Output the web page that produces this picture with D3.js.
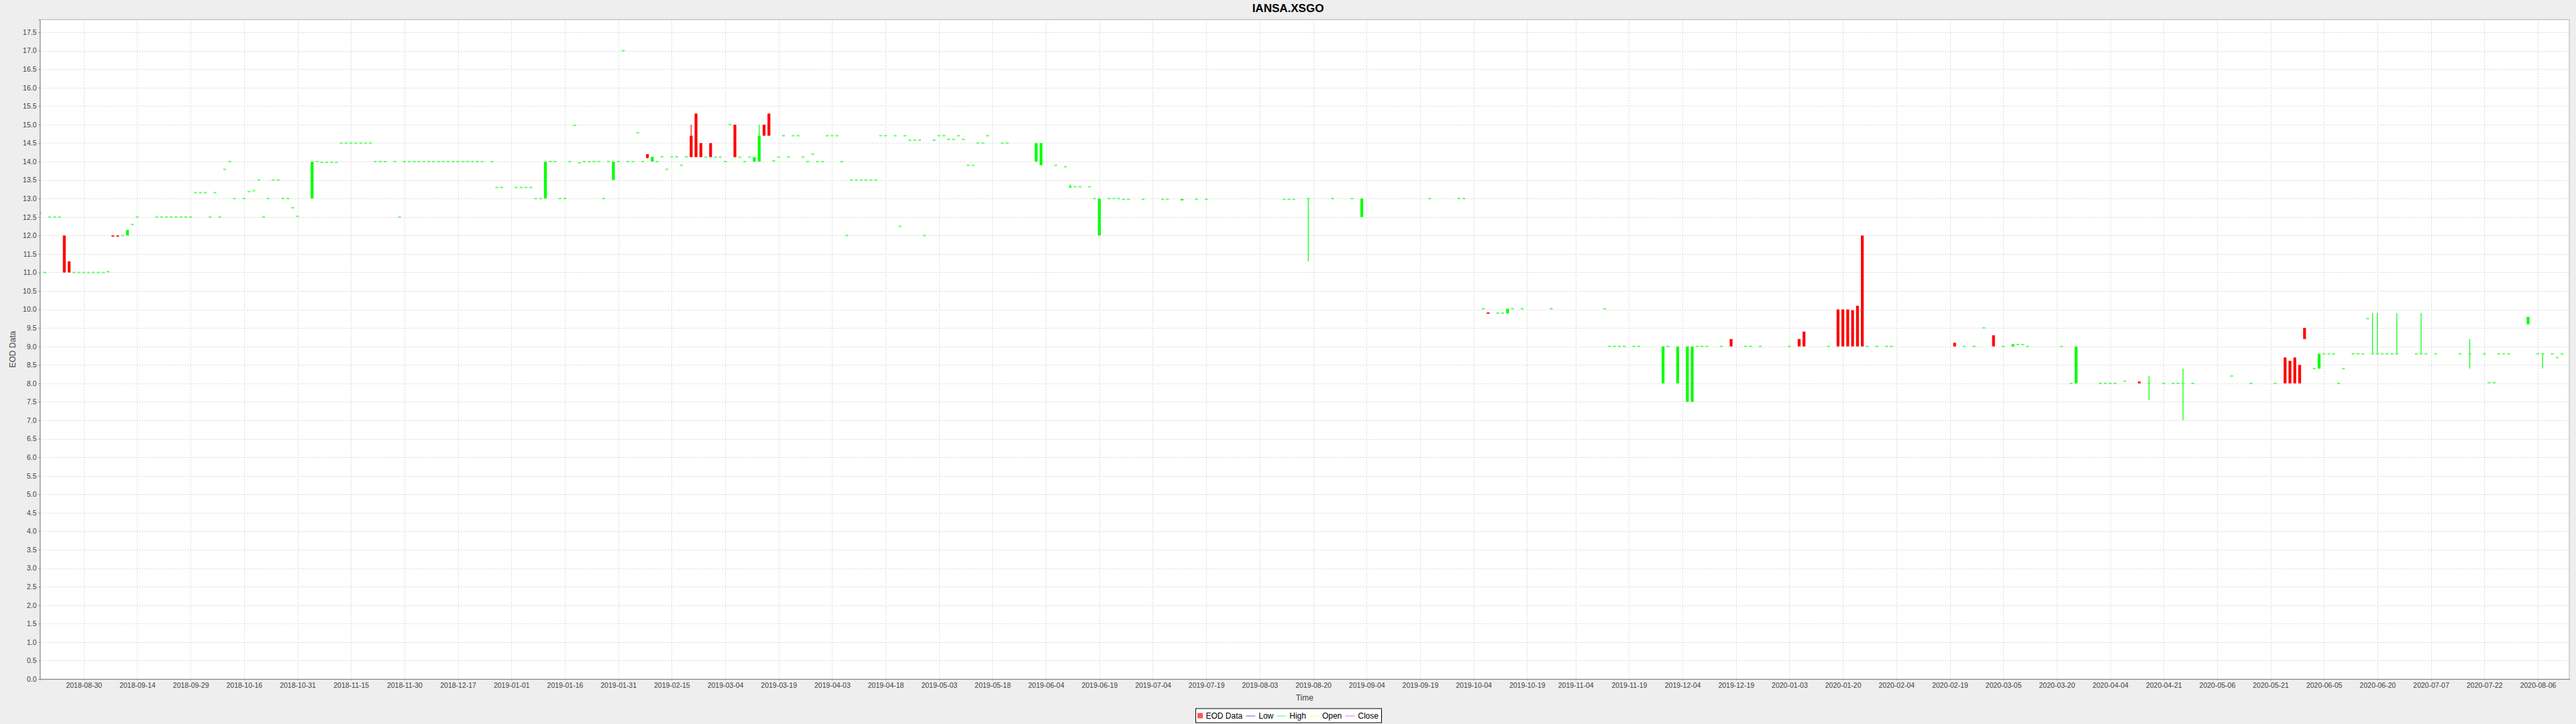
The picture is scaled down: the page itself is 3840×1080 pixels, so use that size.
<!DOCTYPE html>
<html>
<head>
<meta charset="utf-8">
<script src="https://cdn.jsdelivr.net/npm/d3@7"></script>
<style>
  html, body { margin: 0; padding: 0; background: #eeeeee; }
  svg { display: block; }
  text { font-family: "Liberation Sans", Arial, sans-serif; }
</style>
</head>
<body>
<svg id="chart" width="3840" height="1080"></svg>
<script>
// ---------------- DATA ----------------
const chartTitle = "IANSA.XSGO";
const yAxisTitle = "EOD Data";
const xAxisTitle = "Time";

// Days where open = high = low = close
const flatDates = [
  "2018-08-17","2018-08-20","2018-08-21","2018-08-22","2018-08-23",
  "2018-08-28","2018-08-29","2018-08-30","2018-08-31","2018-09-03","2018-09-04","2018-09-05","2018-09-06",
  "2018-09-11","2018-09-13","2018-09-14",
  "2018-09-20","2018-09-21","2018-09-24","2018-09-25","2018-09-26","2018-09-27","2018-09-28","2018-10-01",
  "2018-10-02","2018-10-03","2018-10-04","2018-10-05","2018-10-08","2018-10-09","2018-10-10","2018-10-11",
  "2018-10-12","2018-10-16","2018-10-17","2018-10-18","2018-10-19","2018-10-22","2018-10-23","2018-10-24",
  "2018-10-25","2018-10-26","2018-10-29","2018-10-30","2018-10-31",
  "2018-11-06","2018-11-07","2018-11-08","2018-11-09","2018-11-12",
  "2018-11-13","2018-11-14","2018-11-15","2018-11-16","2018-11-19","2018-11-20","2018-11-21",
  "2018-11-22","2018-11-23","2018-11-26","2018-11-28","2018-11-29",
  "2018-11-30","2018-12-03","2018-12-04","2018-12-05","2018-12-06","2018-12-07","2018-12-10","2018-12-11",
  "2018-12-12","2018-12-13","2018-12-14","2018-12-17","2018-12-18","2018-12-19","2018-12-20","2018-12-21",
  "2018-12-24","2018-12-26",
  "2018-12-27","2018-12-28","2019-01-02","2019-01-03","2019-01-04","2019-01-07",
  "2019-01-08","2019-01-09","2019-01-11","2019-01-14","2019-01-15","2019-01-16","2019-01-17","2019-01-18",
  "2019-01-21","2019-01-22","2019-01-23","2019-01-24","2019-01-25","2019-01-28","2019-01-29","2019-01-31",
  "2019-02-01","2019-02-04","2019-02-05","2019-02-06","2019-02-07","2019-02-12","2019-02-13","2019-02-14",
  "2019-02-15","2019-02-18","2019-02-19","2019-02-20","2019-02-26","2019-02-28","2019-03-01","2019-03-04",
  "2019-03-05","2019-03-07","2019-03-08","2019-03-11","2019-03-18","2019-03-19","2019-03-20","2019-03-21",
  "2019-03-22","2019-03-25","2019-03-26","2019-03-27","2019-03-28","2019-03-29","2019-04-01","2019-04-02",
  "2019-04-03","2019-04-04","2019-04-05","2019-04-08","2019-04-09","2019-04-10","2019-04-11","2019-04-12",
  "2019-04-15","2019-04-16","2019-04-17","2019-04-18","2019-04-22","2019-04-23","2019-04-24","2019-04-25",
  "2019-04-26","2019-04-29","2019-04-30","2019-05-02","2019-05-03","2019-05-06","2019-05-07","2019-05-08",
  "2019-05-09","2019-05-10","2019-05-13","2019-05-14","2019-05-15","2019-05-16","2019-05-17","2019-05-22",
  "2019-05-23","2019-06-06","2019-06-10","2019-06-12","2019-06-13","2019-06-17","2019-06-18","2019-06-21",
  "2019-06-24","2019-06-25","2019-06-26","2019-06-27","2019-07-02","2019-07-08","2019-07-09","2019-07-17",
  "2019-07-19","2019-08-12","2019-08-13","2019-08-14","2019-08-26","2019-08-30","2019-09-23","2019-10-01",
  "2019-10-02","2019-10-08","2019-10-11","2019-10-14","2019-10-16","2019-10-18","2019-10-28","2019-11-12",
  "2019-11-13","2019-11-14","2019-11-15","2019-11-18","2019-11-20","2019-11-21","2019-11-29","2019-12-09",
  "2019-12-10","2019-12-11","2019-12-16","2019-12-23","2019-12-24","2019-12-26","2020-01-03","2020-01-15",
  "2020-01-27","2020-01-29","2020-01-31","2020-02-03","2020-02-24","2020-02-26","2020-02-28","2020-03-05",
  "2020-03-10","2020-03-11","2020-03-12","2020-03-23","2020-03-25","2020-04-02","2020-04-03","2020-04-06",
  "2020-04-07","2020-04-09","2020-04-21","2020-04-23","2020-04-24","2020-04-29","2020-05-11","2020-05-15",
  "2020-05-22","2020-06-03","2020-06-05","2020-06-08","2020-06-09","2020-06-10","2020-06-11","2020-06-15",
  "2020-06-16","2020-06-17","2020-06-18","2020-06-23","2020-06-24","2020-06-25","2020-07-02","2020-07-06",
  "2020-07-08","2020-07-15","2020-07-22","2020-07-23","2020-07-24","2020-07-27","2020-07-28","2020-07-29",
  "2020-08-06","2020-08-11","2020-08-12","2020-08-13"
];
const flatPrices = [
  12.6,11.0,12.5,12.5,12.5,
  11.0,11.0,11.0,11.0,11.0,11.0,11.0,11.02,
  12.0,12.3,12.5,
  12.5,12.5,12.5,12.5,12.5,12.5,12.5,12.5,
  13.16,13.16,13.16,12.5,13.16,12.5,13.79,14.0,
  13.0,13.0,13.19,13.21,13.5,12.5,13.0,13.5,
  13.5,13.0,13.0,12.75,12.52,
  14.0,13.98,13.98,13.98,13.98,
  14.5,14.5,14.5,14.5,14.5,14.5,14.5,
  14.0,14.0,14.0,14.0,12.5,
  14.0,14.0,14.0,14.0,14.0,14.0,14.0,14.0,
  14.0,14.0,14.0,14.0,14.0,14.0,14.0,14.0,
  14.0,14.0,
  13.3,13.3,13.3,13.3,13.3,13.3,
  13.0,13.0,14.0,14.0,13.0,13.0,14.0,14.98,
  13.97,14.0,14.0,14.0,14.0,13.0,14.0,14.0,
  17.0,14.0,14.0,14.78,14.0,14.0,14.13,13.79,
  14.13,14.13,13.9,14.13,14.12,14.12,14.12,14.0,
  15.0,14.12,14.0,14.12,14.02,14.12,14.7,14.12,
  14.7,14.7,14.12,14.0,14.2,14.0,14.0,14.7,
  14.7,14.7,14.0,12.0,13.5,13.5,13.5,13.5,
  13.5,13.5,14.7,14.7,14.7,12.25,14.7,14.58,
  14.58,14.58,12.0,14.58,14.7,14.7,14.6,14.6,
  14.7,14.6,13.9,13.9,14.5,14.5,14.7,14.5,
  14.5,13.9,13.86,13.32,13.32,13.32,13.0,13.0,
  13.0,13.0,12.98,12.98,12.98,12.98,12.98,12.98,
  12.98,12.98,12.98,12.98,13.0,13.0,13.0,13.0,
  13.0,10.02,9.9,9.9,10.02,10.02,10.02,10.02,
  9.0,9.0,9.0,9.0,9.0,9.0,9.0,9.0,
  9.0,9.0,9.0,9.0,9.0,9.0,9.0,9.0,
  9.0,9.0,9.0,9.0,9.0,9.0,9.5,9.0,
  9.05,9.05,9.0,9.0,8.0,8.0,8.0,8.0,
  8.0,8.06,8.0,8.0,8.0,8.0,8.2,8.0,
  8.0,8.4,8.8,8.8,8.8,8.0,8.4,8.8,
  8.8,8.8,9.75,8.8,8.8,8.8,8.8,8.8,
  8.8,8.8,8.8,8.02,8.02,8.8,8.8,8.8,
  8.8,8.8,8.7,8.8
];

// Days with a visible body or shadow
const candleDates = [
  "2018-08-24","2018-08-27","2018-09-07","2018-09-10","2018-09-12","2018-11-05","2019-01-10","2019-01-30",
  "2019-02-08","2019-02-11","2019-02-21","2019-02-22","2019-02-25","2019-02-27","2019-03-06","2019-03-12",
  "2019-03-13","2019-03-14","2019-03-15","2019-05-31","2019-06-03","2019-06-11","2019-06-19","2019-07-12",
  "2019-08-19","2019-09-03","2019-10-09","2019-10-15","2019-11-28","2019-12-03","2019-12-05","2019-12-06",
  "2019-12-18","2020-01-07","2020-01-08","2020-01-17","2020-01-20","2020-01-21","2020-01-22","2020-01-23",
  "2020-01-24","2020-02-20","2020-03-03","2020-03-09","2020-03-26","2020-04-14","2020-04-16","2020-04-27",
  "2020-05-26","2020-05-27","2020-05-28","2020-05-29","2020-06-01","2020-06-04","2020-06-19","2020-06-22",
  "2020-06-26","2020-07-03","2020-07-17","2020-08-04","2020-08-07"
];
const candleOpen = [
  12.0,11.3,12.0,12.0,12.0,13.0,13.0,13.5,
  14.2,14.0,14.7,15.3,14.5,14.5,15.0,14.0,
  14.0,15.0,15.3,14.0,13.9,13.3,12.0,12.95,
  13.0,12.5,9.91,9.89,8.0,8.0,7.5,7.5,
  9.2,9.2,9.4,10.0,10.0,10.0,9.98,10.1,
  12.0,9.1,9.3,9.0,8.0,8.05,8.0,8.0,
  8.7,8.61,8.7,8.5,9.5,8.4,8.8,8.8,
  8.8,8.8,8.8,9.6,8.8
];
const candleHigh = [
  12.0,11.3,12.0,12.0,12.15,14.0,14.0,14.0,
  14.2,14.13,15.0,15.3,14.5,14.5,15.0,14.12,
  15.0,15.0,15.3,14.5,14.5,13.38,13.0,12.99,
  13.0,13.0,9.91,10.02,9.0,9.0,9.0,9.0,
  9.2,9.2,9.4,10.0,10.0,10.0,9.98,10.1,
  12.0,9.1,9.3,9.06,9.0,8.05,8.2,8.4,
  8.7,8.61,8.7,8.5,9.5,8.8,9.9,9.9,
  9.9,9.9,9.2,9.8,8.8
];
const candleLow = [
  11.0,11.0,11.97,11.97,12.0,13.0,13.0,13.5,
  14.08,14.0,14.12,14.12,14.12,14.12,14.12,14.0,
  14.0,14.7,14.7,14.0,13.9,13.3,12.0,12.95,
  11.3,12.5,9.89,9.89,8.0,8.0,7.5,7.5,
  9.0,9.0,9.0,9.0,9.0,9.0,9.0,9.0,
  9.0,9.0,9.0,9.0,8.0,8.0,7.55,7.0,
  8.0,8.0,8.0,8.0,9.2,8.4,8.8,8.8,
  8.8,8.8,8.4,9.6,8.4
];
const candleClose = [
  11.0,11.0,11.97,11.97,12.15,14.0,14.0,14.0,
  14.1,14.13,14.12,14.12,14.12,14.12,14.12,14.12,
  14.7,14.7,14.7,14.5,14.5,13.33,13.0,12.99,
  13.0,13.0,9.89,10.02,9.0,9.0,9.0,9.0,
  9.0,9.0,9.0,9.0,9.0,9.0,9.0,9.0,
  9.0,9.0,9.0,9.06,9.0,8.0,8.0,8.0,
  8.0,8.0,8.0,8.0,9.2,8.8,8.8,8.8,
  8.8,8.8,8.8,9.8,8.8
];

const xTickLabels = [
  "2018-08-30","2018-09-14","2018-09-29","2018-10-16","2018-10-31","2018-11-15","2018-11-30","2018-12-17",
  "2019-01-01","2019-01-16","2019-01-31","2019-02-15","2019-03-04","2019-03-19","2019-04-03","2019-04-18",
  "2019-05-03","2019-05-18","2019-06-04","2019-06-19","2019-07-04","2019-07-19","2019-08-03","2019-08-20",
  "2019-09-04","2019-09-19","2019-10-04","2019-10-19","2019-11-04","2019-11-19","2019-12-04","2019-12-19",
  "2020-01-03","2020-01-20","2020-02-04","2020-02-19","2020-03-05","2020-03-20","2020-04-04","2020-04-21",
  "2020-05-06","2020-05-21","2020-06-05","2020-06-20","2020-07-07","2020-07-22","2020-08-06"
];
const legendItems = [
  {label: "EOD Data", color: "#ff5555", kind: "box"},
  {label: "Low",   color: "#5555ff", kind: "line"},
  {label: "High",  color: "#55ff55", kind: "line"},
  {label: "Open",  color: "#ffff55", kind: "line"},
  {label: "Close", color: "#ff55ff", kind: "line"}
];

// ---------------- LAYOUT ----------------
const W = 3840, H = 1080;
const plot = {left: 59.5, right: 3830, top: 29.3, bottom: 1013};

// Monday-to-Friday timeline: weekends are removed from the axis
const timelineStart = Date.UTC(2018, 7, 27);
function tradingIndex(s) {
  const [Y, M, D] = s.split("-").map(Number);
  const days = Math.round((Date.UTC(Y, M - 1, D) - timelineStart) / 864e5);
  let w = Math.floor(days / 7), dow = days - 7 * w;
  if (dow > 4) { w += 1; dow = 0; }
  return w * 5 + dow;
}

const firstIdx = tradingIndex(flatDates[0]);
const x = d3.scaleLinear()
  .domain([firstIdx - 0.015, firstIdx - 0.015 + (plot.right - plot.left) / 7.244])
  .range([plot.left, plot.right]);
const y = d3.scaleLinear().domain([0, 17.84]).range([plot.bottom, plot.top]);

const rows = [];
flatDates.forEach((d, i) => rows.push({d, o: flatPrices[i], h: flatPrices[i], l: flatPrices[i], c: flatPrices[i]}));
candleDates.forEach((d, i) => rows.push({d, o: candleOpen[i], h: candleHigh[i], l: candleLow[i], c: candleClose[i]}));

const svg = d3.select("#chart");
svg.append("rect").attr("width", W).attr("height", H).attr("fill", "#eeeeee");

// Title
svg.append("text").attr("x", W / 2).attr("y", 18).attr("text-anchor", "middle")
  .attr("font-size", 17).attr("font-weight", "bold").attr("fill", "#000").text(chartTitle);

// Plot background
svg.append("rect").attr("x", plot.left).attr("y", plot.top)
  .attr("width", plot.right - plot.left).attr("height", plot.bottom - plot.top).attr("fill", "#ffffff");

svg.append("clipPath").attr("id", "plotclip").append("rect")
  .attr("x", plot.left).attr("y", plot.top).attr("width", plot.right - plot.left).attr("height", plot.bottom - plot.top);

// Grid
const yTickValues = d3.range(0, 17.5 + 1e-9, 0.5);
const grid = svg.append("g").attr("clip-path", "url(#plotclip)");
grid.selectAll(".gy").data(yTickValues).join("line")
  .attr("x1", plot.left).attr("x2", plot.right)
  .attr("y1", d => Math.round(y(d)) + 0.5).attr("y2", d => Math.round(y(d)) + 0.5)
  .attr("stroke", "#d9d9d9").attr("stroke-width", 1).attr("stroke-dasharray", "2,2");
grid.selectAll(".gx").data(xTickLabels).join("line")
  .attr("x1", d => Math.round(x(tradingIndex(d))) + 0.5).attr("x2", d => Math.round(x(tradingIndex(d))) + 0.5)
  .attr("y1", plot.top).attr("y2", plot.bottom)
  .attr("stroke", "#d9d9d9").attr("stroke-width", 1).attr("stroke-dasharray", "2,2");

// Candles
const UP = "#00ff00", DOWN = "#ff0000", FLAT = "#5cff5c";
const cw = 4.2;
const marks = svg.append("g").attr("clip-path", "url(#plotclip)");
rows.forEach(r => {
  const cx = x(tradingIndex(r.d));
  const up = r.c >= r.o;
  const col = up ? UP : DOWN;
  const top = y(Math.max(r.o, r.c)), bot = y(Math.min(r.o, r.c));
  if (y(r.h) < top - 0.5) {
    marks.append("line").attr("x1", cx).attr("x2", cx).attr("y1", y(r.h)).attr("y2", top)
      .attr("stroke", col).attr("stroke-width", 1.2);
  }
  if (y(r.l) > bot + 0.5) {
    marks.append("line").attr("x1", cx).attr("x2", cx).attr("y1", bot).attr("y2", y(r.l))
      .attr("stroke", col).attr("stroke-width", 1.2);
  }
  const hgt = bot - top;
  if (hgt < 1.5) {
    marks.append("rect").attr("x", cx - cw / 2).attr("y", (top + bot) / 2 - 1).attr("width", cw).attr("height", 2)
      .attr("fill", r.o === r.c ? FLAT : col);
  } else {
    marks.append("rect").attr("x", cx - cw / 2).attr("y", top).attr("width", cw).attr("height", hgt).attr("fill", col);
  }
});

// Plot outline & axes
svg.append("rect").attr("x", plot.left).attr("y", plot.top)
  .attr("width", plot.right - plot.left).attr("height", plot.bottom - plot.top)
  .attr("fill", "none").attr("stroke", "#b4b4b4").attr("stroke-width", 1);

const yAxis = d3.axisLeft(y).tickValues(yTickValues).tickFormat(d3.format(".1f")).tickSize(2).tickPadding(3);
const gy = svg.append("g").attr("transform", `translate(${plot.left},0)`).call(yAxis);
gy.select(".domain").attr("stroke", "#888888");
gy.selectAll(".tick line").attr("stroke", "#888888");
gy.selectAll(".tick text").attr("font-size", 10.5).attr("font-family", "Liberation Sans, Arial, sans-serif").attr("fill", "#404040");

const xAxis = d3.axisBottom(x).tickValues(xTickLabels.map(tradingIndex))
  .tickFormat((d, i) => xTickLabels[i]).tickSize(2).tickPadding(4);
const gx = svg.append("g").attr("transform", `translate(0,${plot.bottom})`).call(xAxis);
gx.select(".domain").attr("stroke", "#888888");
gx.selectAll(".tick line").attr("stroke", "#888888");
gx.selectAll(".tick text").attr("font-size", 10.5).attr("font-family", "Liberation Sans, Arial, sans-serif").attr("fill", "#404040");

// Axis titles
svg.append("text").attr("x", (plot.left + plot.right) / 2).attr("y", 1045).attr("text-anchor", "middle")
  .attr("font-size", 12).attr("fill", "#404040").text(xAxisTitle);
svg.append("text").attr("transform", `translate(23,${(plot.top + plot.bottom) / 2}) rotate(-90)`)
  .attr("text-anchor", "middle").attr("font-size", 12).attr("fill", "#404040").text(yAxisTitle);

// Legend
const lg = svg.append("g");
const lgBox = lg.append("rect").attr("fill", "#ffffff").attr("stroke", "#000").attr("stroke-width", 1);
let cursor = 0;
const itemsG = lg.append("g");
legendItems.forEach(it => {
  const g = itemsG.append("g").attr("transform", `translate(${cursor},0)`);
  if (it.kind === "box") {
    g.append("rect").attr("x", 0).attr("y", -4).attr("width", 8).attr("height", 8).attr("fill", it.color);
  } else {
    g.append("line").attr("x1", -1).attr("x2", 13).attr("y1", 0.5).attr("y2", 0.5).attr("stroke", it.color).attr("stroke-width", 1);
  }
  const t = g.append("text").attr("x", it.kind === "box" ? 12.5 : 18).attr("y", 4.5)
    .attr("font-size", 12).attr("fill", "#000").text(it.label);
  const tw = t.node().getComputedTextLength();
  cursor += (it.kind === "box" ? 12.5 : 18) + tw + 6;
});
const totalW = cursor - 6;
const lx = W / 2 - totalW / 2;
itemsG.attr("transform", `translate(${lx},1067.5)`);
lgBox.attr("x", Math.round(lx - 3.5) + 0.5).attr("y", 1057).attr("width", Math.round(totalW + 7)).attr("height", 21);
</script>
</body>
</html>
